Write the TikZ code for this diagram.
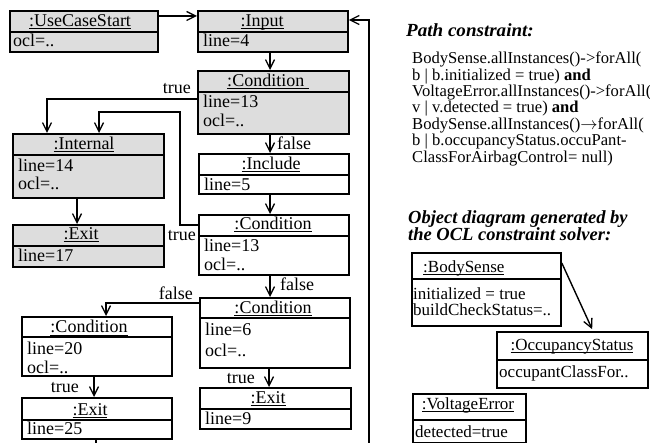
\documentclass[tikz,border=0pt]{standalone}
\usepackage{fontspec}
\setmainfont{Liberation Serif}
\usetikzlibrary{arrows.meta}
\definecolor{boxgray}{RGB}{221,221,221}
\newcommand\myul[1]{\setbox0\hbox{#1}\rlap{\rule[-2.4pt]{\wd0}{0.9pt}}\box0}
\newcommand\objbox[7]{%
  \node[objframe, fill=#2, minimum width={#5-#3}, minimum height={#6-#4}, anchor=north west] (#1) at (#3,#4) {};
  \draw[sepline] (#1.west |- 0,#7) -- (#1.east |- 0,#7);}
\begin{document}
\begin{tikzpicture}[x=1pt,y=-1pt,
  objframe/.style={draw, line width=1.8pt, inner sep=0pt},
  sepline/.style={line width=1.5pt},
  conn/.style={line width=1.4pt, -{Straight Barb[length=9pt,width=9pt,line width=1.3pt]}},
  plainline/.style={line width=1.4pt},
  ltxt/.style={font=\fontsize{18}{19}\selectfont, inner sep=0pt},
  ttl/.style={ltxt, anchor=base},
  att/.style={ltxt, anchor=base west},
  lblr/.style={ltxt, anchor=base east},
  lbll/.style={ltxt, anchor=base west},
  hdr/.style={font=\fontsize{18.5}{17}\selectfont\bfseries\itshape, inner sep=0pt, anchor=base west},
  body/.style={font=\fontsize{16.6}{16.5}\selectfont, inner sep=0pt, anchor=base west},
  rtxt/.style={font=\fontsize{17}{17}\selectfont, inner sep=0pt},
  rttl/.style={rtxt, anchor=base},
  ratt/.style={rtxt, anchor=base west}]
\useasboundingbox (0,0) rectangle (650,443);

% ---------- left: path diagram ----------
\objbox{ucs}{boxgray}{9}{10}{157}{51}{32}
\node[ttl] (ucs-t) at (80,27) {\myul{:UseCaseStart}};
\node[att] (ucs-a) at (13,47) {ocl=..};

\objbox{inp}{boxgray}{197}{10}{347}{51}{32}
\node[ttl] (inp-t) at (262,27) {\myul{:Input}};
\node[att] (inp-a) at (203,47) {line=4};

\objbox{ca}{boxgray}{197}{70}{348}{133}{92}
\node[ttl] (ca-t) at (268,87) {\myul{:Condition\ }};
\node[att] (ca-a1) at (203,108) {line=13};
\node[att] (ca-a2) at (203,127) {ocl=..};

\objbox{intl}{boxgray}{12}{133}{163}{197}{155}
\node[ttl] (intl-t) at (84,150) {\myul{:Internal}};
\node[att] (intl-a1) at (18,172) {line=14};
\node[att] (intl-a2) at (18,190) {ocl=..};

\objbox{exa}{boxgray}{12}{224}{163}{266}{246}
\node[ttl] (exa-t) at (81,240) {\myul{:Exit}};
\node[att] (exa-a) at (18,262) {line=17};

\objbox{inc}{white}{198}{153}{348}{193}{175}
\node[ttl] (inc-t) at (271,170) {\myul{:Include}};
\node[att] (inc-a) at (204,191) {line=5};

\objbox{cb}{white}{198}{214}{348}{274}{236}
\node[ttl] (cb-t) at (273,230) {\myul{:Condition}};
\node[att] (cb-a1) at (204,252) {line=13};
\node[att] (cb-a2) at (204,271) {ocl=..};

\objbox{cc}{white}{199}{297}{349}{367}{318}
\node[ttl] (cc-t) at (273,313) {\myul{:Condition}};
\node[att] (cc-a1) at (205,335) {line=6};
\node[att] (cc-a2) at (205,356) {ocl=..};

\objbox{cd}{white}{21}{316}{171}{375}{337}
\node[ttl] (cd-t) at (89,333) {\myul{:Condition}};
\node[att] (cd-a1) at (27,354) {line=20};
\node[att] (cd-a2) at (27,373) {ocl=..};

\objbox{exb}{white}{21}{397}{171}{438}{420}
\node[ttl] (exb-t) at (90,415) {\myul{:Exit}};
\node[att] (exb-a) at (27,434) {line=25};

\objbox{exc}{white}{199}{387}{350}{428}{409}
\node[ttl] (exc-t) at (268,403) {\myul{:Exit}};
\node[att] (exc-a) at (205,424) {line=9};

% connectors
\draw[conn] (ucs.east |- 0,16) -- (inp.west |- 0,16);
\coordinate (loopend) at (369,443);
\draw[conn] (loopend) |- (inp.east |- 0,20);
\draw[conn] (inp.south -| 270,0) -- (ca.north -| 270,0);
\draw[conn] (ca.west |- 0,99) -| (intl.north -| 47,0);
\node[lblr] (l1) at (191,94) {true};
\draw[conn] (ca.south -| 270,0) -- (inc.north -| 270,0);
\node[lbll] (l2) at (277,150) {false};
\draw[conn] (inc.south -| 270,0) -- (cb.north -| 270,0);
\coordinate (bend1) at (180,225);
\coordinate (bend2) at (180,112);
\draw[conn] (cb.west |- 0,225) -- (bend1) -- (bend2) -| (intl.north -| 99,0);
\node[lblr] (l3) at (196,241) {true};
\draw[conn] (intl.south -| 77,0) -- (exa.north -| 77,0);
\draw[conn] (cb.south -| 270,0) -- (cc.north -| 270,0);
\node[lbll] (l4) at (280,291) {false};
\draw[conn] (cc.west |- 0,303) -| (cd.north -| 106,0);
\node[lblr] (l5) at (193,300) {false};
\draw[conn] (cd.south -| 94,0) -- (exb.north -| 94,0);
\node[lblr] (l6) at (79,392) {true};
\draw[conn] (cc.south -| 269,0) -- (exc.north -| 269,0);
\node[lblr] (l7) at (255,383) {true};
\coordinate (bot25) at (96,443);
\draw[plainline] (exb.south -| 96,0) -- (bot25);

% ---------- right: constraint and object diagram ----------
\node[hdr] (pc) at (406,37) {\scalebox{1.03}[1]{Path constraint:}};
\node[body] (pc1) at (412,64) {BodySense.allInstances()->forAll(};
\node[body] (pc2) at (412,81) {b | b.initialized = true) \textbf{and}};
\node[body] (pc3) at (412,97) {VoltageError.allInstances()->forAll(};
\node[body] (pc4) at (412,113) {v | v.detected = true) \textbf{and}};
\node[body] (pc5) at (412,130) {BodySense.allInstances()$\rightarrow$forAll(};
\node[body] (pc6) at (412,146) {b | b.occupancyStatus.occuPant-};
\node[body] (pc7) at (412,163) {ClassForAirbagControl= null)};

\node[hdr] (od1) at (408,224) {Object diagram generated by};
\node[hdr] (od2) at (408,241) {the OCL constraint solver:};

\objbox{bs}{white}{411}{252}{560}{325}{279}
\node[rtxt, anchor=base west] (bs-t) at (423,273) {\myul{:BodySense}};
\node[ratt] (bs-a1) at (413,300) {initialized = true};
\node[ratt] (bs-a2) at (413,316) {buildCheckStatus=..};

\objbox{occ}{white}{496}{331}{647}{387}{360}
\node[rttl] (occ-t) at (572,350) {\myul{:OccupancyStatus}};
\node[ratt] (occ-a) at (499,377) {occupantClassFor..};

\objbox{ve}{white}{412}{393}{525}{442}{420}
\node[rttl] (ve-t) at (468,409) {\myul{:VoltageError}};
\node[ratt] (ve-a) at (415,437) {detected=true};

\draw[conn, shorten >=2pt] (bs.east |- 0,263) -- (occ.north -| 593,0);
\end{tikzpicture}
\end{document}
